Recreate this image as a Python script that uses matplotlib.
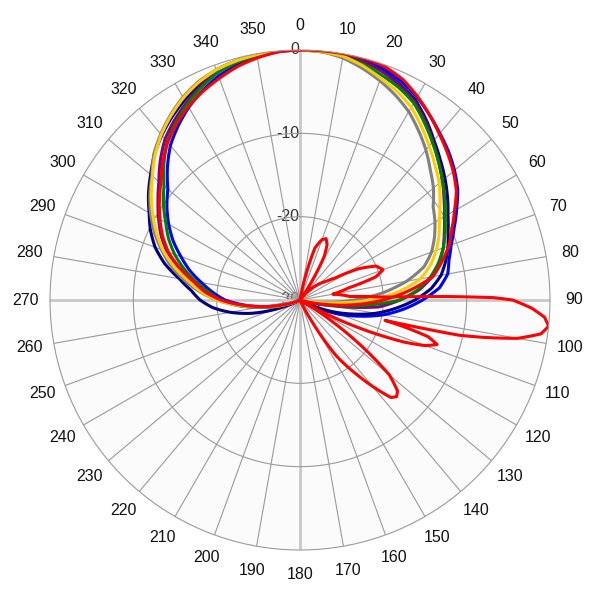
import numpy as np
import matplotlib
matplotlib.use("Agg")
from matplotlib import pyplot as plt
from matplotlib import transforms

plt.rcParams["font.family"] = ["Liberation Sans", "DejaVu Sans"]

# angles (deg) for the main beam traces, every 5 deg, closed at 360
angles = list(range(0, 365, 5))

# values in dB (floor of the scale is -30)
back = [-30] * 24  # 125..240 deg, below the floor

# 0..120 deg (25 values) + back + 245..355 deg (23 values)
navy = [0, 0, 0, -0.3, -0.8, -1.5, -2.3, -3.6, -5.0, -6.2, -7.3, -8.4, -9.5, -10.4,
        -11.1, -11.9, -12.8, -14.2, -16.2, -18.5, -20.8, -23.5, -26, -28.5, -30] + back + \
       [-29, -26.5, -23.8, -21.5, -19.5, -18, -16.9, -15.3, -13.2, -11.5, -10.2, -9.1,
        -7.8, -6.6, -5.3, -4.2, -3.2, -2.3, -1.4, -0.6, -0.3, -0.1, 0]
blue = [0, 0, 0, -0.2, -0.5, -1.1, -1.9, -2.9, -3.9, -4.8, -5.8, -6.9, -8.3, -9.6,
        -10.7, -11.5, -12, -13.2, -15.3, -17.5, -19.8, -22.5, -25, -28, -30] + back + \
       [-30, -29, -27.5, -25.5, -23.2, -21, -19.5, -18, -16.3, -14.8, -13.2, -11.8,
        -10.5, -9.3, -7.5, -5.8, -4.5, -3.3, -2.3, -1.4, -0.8, -0.4, -0.1]
purple = [0, 0, -0.1, -0.4, -0.9, -1.6, -2.5, -3.8, -5.2, -6.5, -7.7, -8.9, -10, -10.9,
          -11.7, -12.7, -13.9, -15.6, -18, -20.5, -26, -29.5, -30, -30, -30] + back + \
         [-30, -29, -27, -25, -22.7, -20.5, -18.7, -17, -15, -13, -11.6, -10.4,
          -9.2, -7.9, -6.3, -4.8, -3.7, -2.7, -1.7, -0.8, -0.4, -0.1, 0]
green = [0, -0.1, -0.3, -0.7, -1.3, -1.9, -2.7, -4.0, -5.3, -6.5, -7.7, -8.8, -9.9, -10.8,
         -11.7, -12.8, -14.1, -15.8, -18, -22.5, -26.5, -29.5, -30, -30, -30] + back + \
        [-30, -29, -27, -25, -22.5, -20.5, -19, -17.3, -15.6, -14, -12.6, -11.4,
         -10, -8.7, -6.9, -5.2, -4, -2.9, -1.9, -1.0, -0.5, -0.2, 0]
gray = [0, -0.1, -0.5, -1.2, -2.0, -2.9, -3.9, -5.2, -6.5, -7.9, -9.1, -10.5, -11.3, -12.2,
        -13.2, -14.6, -17, -20, -23.5, -27, -29, -30, -30, -30, -30] + back + \
       [-30, -29, -27, -25, -22.5, -20, -17.8, -15.8, -13.9, -12.3, -10.7, -9.3,
        -8, -6.8, -5.2, -4.0, -2.9, -1.9, -1.1, -0.6, -0.3, -0.1, 0]
gold = [0, -0.1, -0.3, -0.9, -1.7, -2.4, -3.3, -4.6, -5.9, -7.1, -8.2, -9.5, -10.7, -11.6,
        -12.6, -13.8, -15.3, -18, -21.5, -26, -29, -30, -30, -30, -30] + back + \
       [-30, -29, -27.3, -25.5, -22.7, -20, -18, -16.3, -14.3, -12.5, -11, -9.6,
        -8.2, -6.9, -5.4, -4.1, -3, -2.0, -1.2, -0.6, -0.3, -0.1, 0]
red_main = [0, 0, 0, 0, -0.2, -0.8, -1.8, -2.9, -4.0, -5.0, -6.0, -7.1, -8.6, -9.9,
            -11, -12.4, -13.8, -16.8, -20, -23.5, -27, -29.5, -30, -30, -30] + back + \
           [-30, -29, -27.5, -25.5, -23, -20.5, -18.5, -17, -15, -13.2, -11.8, -10.6,
            -9.4, -8.2, -6.7, -5.3, -4.2, -3.2, -2.4, -1.7, -1.0, -0.5, -0.1]

# red trace with side lobes (right half only)
red_side_ang = [0, 10, 13, 16, 20, 23, 26, 29, 32, 36, 45, 50, 55, 58, 62, 66, 70, 73,
                76, 80, 83, 86, 88, 88.7, 89.3, 90, 92, 94, 96, 98, 100, 101.5, 102.5,
                103.5, 104.5, 106, 108, 110, 112, 114, 117, 120, 124, 127, 130, 133,
                135, 137, 140, 143, 147, 151, 155, 160]
red_side_val = [-30, -30, -27, -23.5, -22.3, -22, -22.6, -24, -27, -30, -28, -27, -26, -25,
                -22, -20, -19.4, -20.5, -24, -26, -25, -24, -20, -12, -6.8, -4.5, -2.2,
                -0.6, 0, -0.8, -3.5, -7.5, -10.5, -19.5, -17, -14, -12.7, -14, -16.5,
                -20, -25, -30, -25, -20.5, -16, -14, -13.6, -14, -16.5, -19, -22, -27,
                -30, -30]

series = [
    (blue, "#0000ff"),
    (navy, "#000080"),
    (purple, "#800080"),
    (green, "#008000"),
    (gray, "#808080"),
    (gold, "#ffcc00"),
    (red_main, "#ff0000"),
]

theta_labels = [str(a) for a in range(0, 360, 10)]
r_ticks = [-30, -20, -10, 0]
r_labels = ["-30", "-20", "-10", "0"]

fig = plt.figure(figsize=(6, 6), dpi=100)
ax = fig.add_axes([50 / 600, 50 / 600, 500 / 600, 500 / 600], projection="polar")
ax.set_facecolor("#fbfbfb")
ax.set_theta_zero_location("N")
ax.set_theta_direction(-1)
ax.set_ylim(-30, 0)

ax.set_thetagrids(list(range(0, 360, 10)), theta_labels, fontsize=11.5, color="#111111")
ax.tick_params(axis="x", pad=7)
ax.set_rgrids([-20, -10], labels=["", ""])
ax.grid(True, color="#9a9a9a", linewidth=0.8)
for i, gl in enumerate(ax.xaxis.get_gridlines()):
    if i % 9 == 0:
        gl.set_color("#c8c8c8")
        gl.set_linewidth(2.0)
ax.spines["polar"].set_color("#9a9a9a")
ax.spines["polar"].set_linewidth(0.8)

for vals, col in series:
    ax.plot(np.deg2rad(angles), vals + [vals[0]], color=col, linewidth=2.2)
ax.plot(np.deg2rad(red_side_ang), red_side_val, color="#ff0000", linewidth=2.2)

# draw segments as arcs in (theta, r) rather than straight chords
for ln in ax.lines:
    ln.get_path()._interpolation_steps = 25

off = transforms.offset_copy(ax.transData, fig=fig, x=-1, y=0, units="dots")
for rv, lab in zip(r_ticks, r_labels):
    ax.text(0, rv, lab, transform=off, ha="right", va="center",
            fontsize=11.5, color="#333333", zorder=1)

fig.savefig("out.png", dpi=100)
